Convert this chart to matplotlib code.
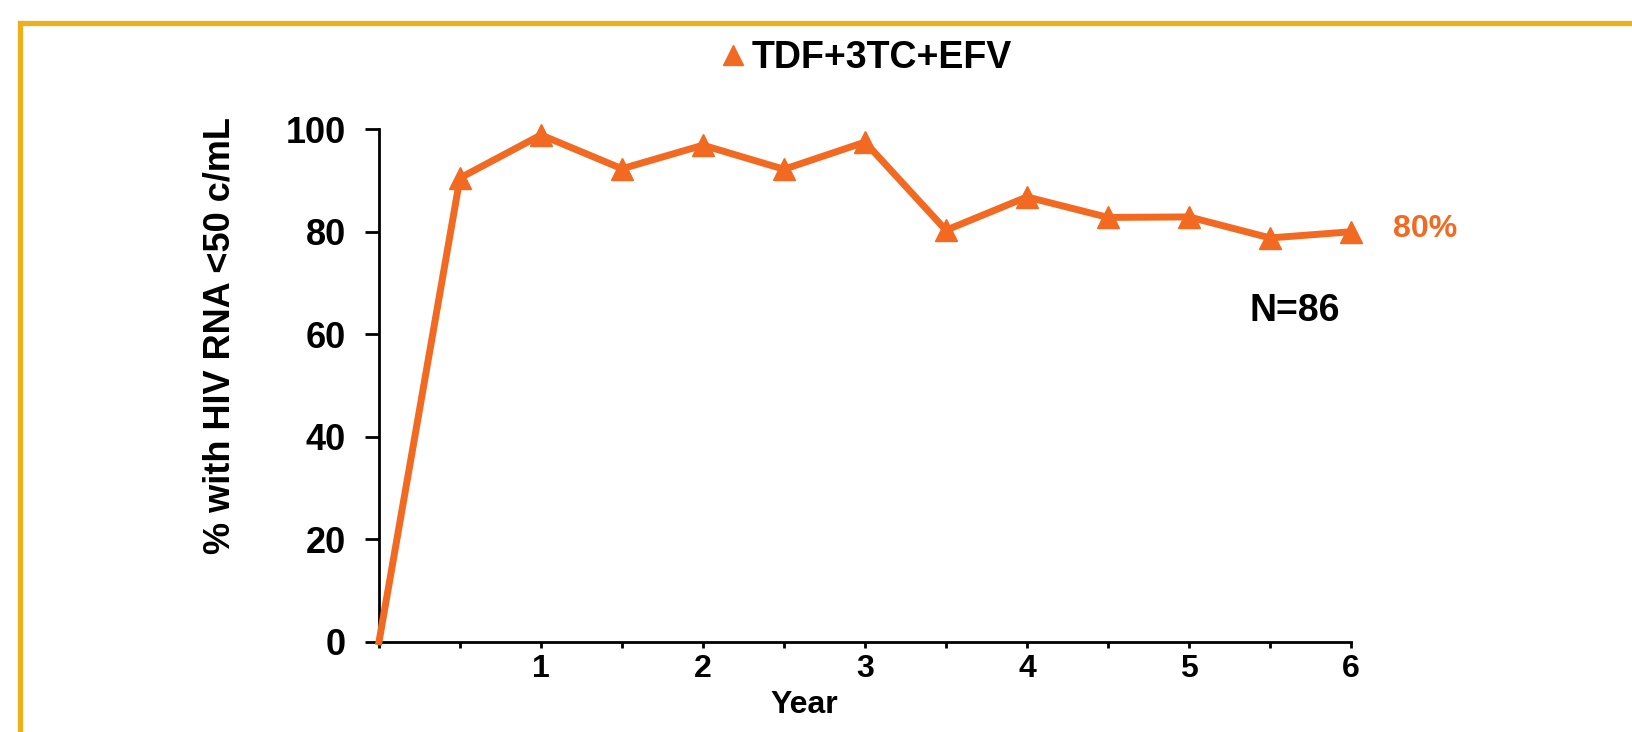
import matplotlib
matplotlib.use("Agg")
import matplotlib.pyplot as plt
from matplotlib.lines import Line2D
from matplotlib.patches import Rectangle

# data
years = [0, 0.5, 1, 1.5, 2, 2.5, 3, 3.5, 4, 4.5, 5, 5.5, 6]
pct_suppressed = [0, 90.5, 98.9, 92.3, 96.9, 92.2, 97.5, 80.3, 86.8, 82.8, 82.9, 78.8, 80.0]
series_name = "TDF+3TC+EFV"
y_ticks = [0, 20, 40, 60, 80, 100]
x_ticks = [0, 0.5, 1, 1.5, 2, 2.5, 3, 3.5, 4, 4.5, 5, 5.5, 6]
x_tick_labels = ["", "", "1", "", "2", "", "3", "", "4", "", "5", "", "6"]
end_label = "80%"
n_label = "N=86"

orange = "#F26A22"
gold = "#ECB11A"

plt.rcParams["font.family"] = ["Liberation Sans", "DejaVu Sans"]
plt.rcParams["font.weight"] = "bold"

W, H = 1632, 732
fig = plt.figure(figsize=(W / 100, H / 100), dpi=100)

# gold slide frame (open to the right and bottom)
fig.patches.append(
    Rectangle((19.5 / W, -0.1), 2.0, 1.1 - 23.5 / H, transform=fig.transFigure,
              fill=False, edgecolor=gold, linewidth=3.8, zorder=0)
)

ax = fig.add_axes([379 / W, (H - 641.7) / H, 972 / W, 512.4 / H])

ax.plot(years, pct_suppressed, color=orange, linewidth=5.0, marker="^",
        markersize=16, markevery=slice(1, None), clip_on=False, zorder=3)

ax.set_xlim(0, 6)
ax.set_ylim(0, 100)
ax.set_yticks(y_ticks)
ax.set_xticks(x_ticks)
ax.set_xticklabels(x_tick_labels)

for side in ("top", "right"):
    ax.spines[side].set_visible(False)
for side in ("left", "bottom"):
    ax.spines[side].set_linewidth(2.0)

ax.tick_params(axis="y", direction="out", length=10, width=2.0, pad=14, labelsize=26)
ax.tick_params(axis="x", direction="out", length=4, width=2.0, pad=5, labelsize=23)

ax.set_xlabel("Year", fontsize=23, fontweight="bold", va="center")
ax.xaxis.set_label_coords((804 - 379) / 972, (641.7 - 705) / 512.4)
ax.set_ylabel("% with HIV RNA <50 c/mL", fontsize=26, fontweight="bold",
              va="center", ha="center")
ax.yaxis.set_label_coords((220 - 379) / 972, (641.7 - 336) / 512.4)

ax.annotate(end_label, xy=(years[-1], pct_suppressed[-1]), xytext=(30, 2),
            textcoords="offset points", ha="left", va="center",
            fontsize=23, fontweight="bold", color=orange)
ax.text(5.65, 64.6, n_label, ha="center", va="center", fontsize=27, fontweight="bold")

handle = Line2D([], [], color=orange, marker="^", linestyle="None", markersize=15)
fig.legend([handle], [series_name], loc="center", bbox_to_anchor=(866 / W, 1 - 58 / H),
           frameon=False, handlelength=0.7, handletextpad=0.15,
           borderpad=0, prop={"weight": "bold", "size": 27})

fig.savefig("out.png", dpi=100)
